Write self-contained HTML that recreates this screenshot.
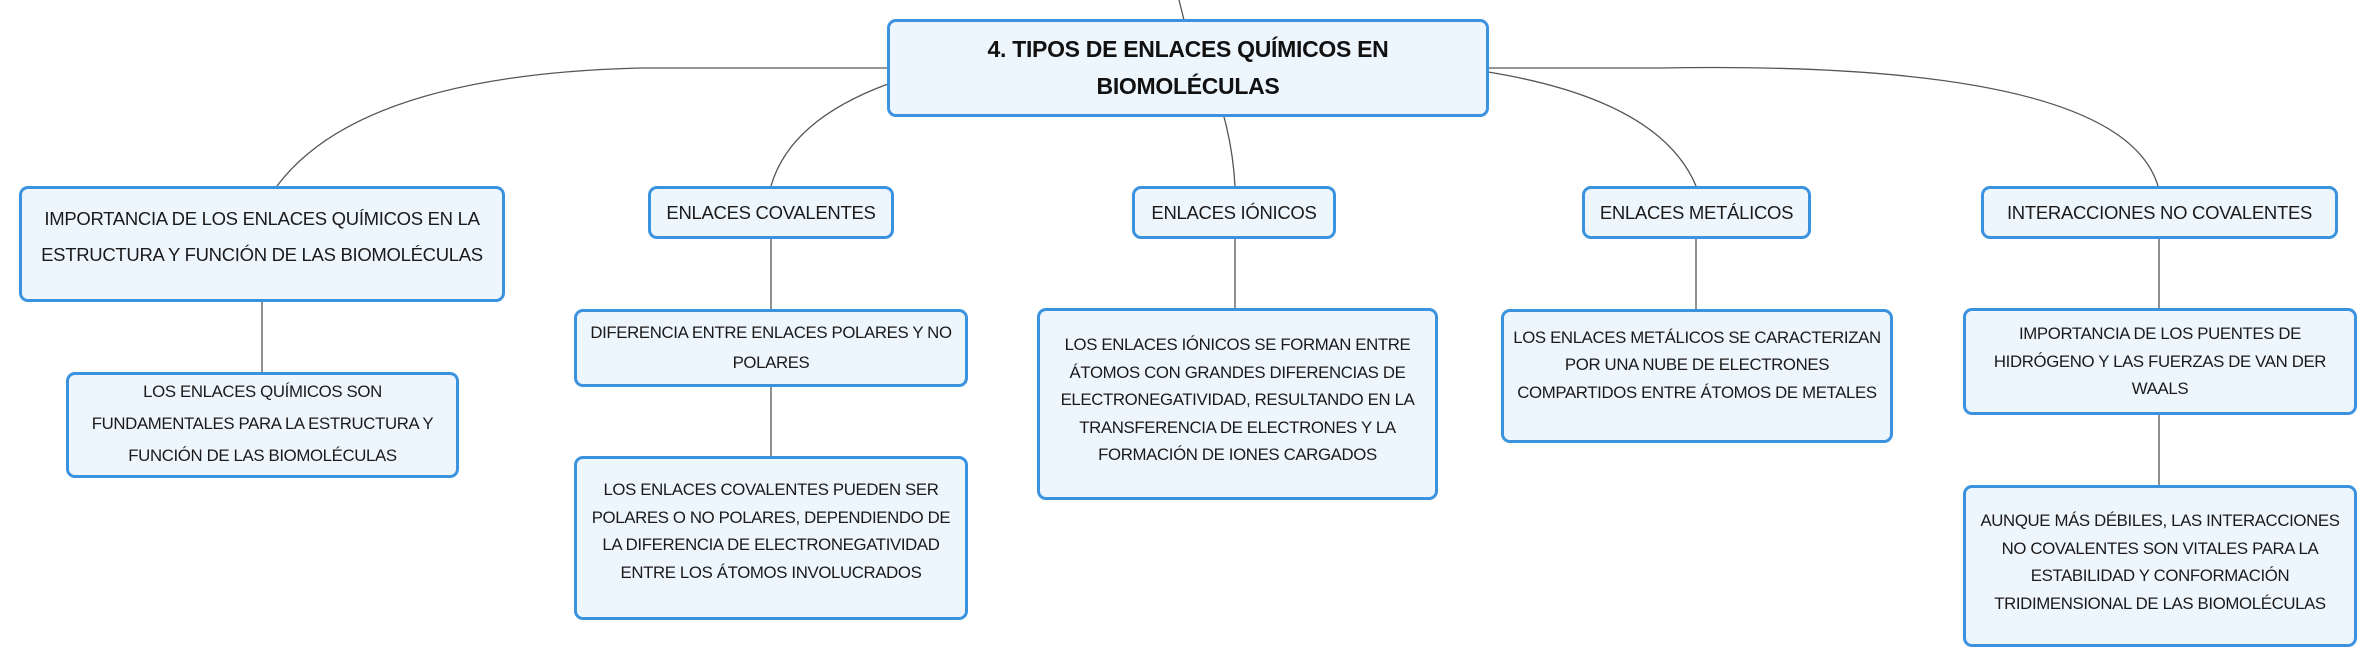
<!DOCTYPE html>
<html><head><meta charset="utf-8"><style>
html,body{margin:0;padding:0;background:#fff;}
body{width:2376px;height:668px;position:relative;overflow:hidden;font-family:"Liberation Sans",sans-serif;color:#1a1a1a;}
.n{position:absolute;box-sizing:border-box;border:3px solid #3b92de;border-radius:9px;background:#eef6fd;display:flex;align-items:center;justify-content:center;text-align:center;white-space:nowrap;}
.t{font-size:18.5px;line-height:36px;letter-spacing:-0.3px;}
.c{font-size:16.8px;line-height:27.5px;letter-spacing:-0.35px;}
.root{font-size:23px;font-weight:bold;line-height:37px;letter-spacing:-0.3px;color:#111;}
svg{position:absolute;left:0;top:0;}
</style></head><body>
<svg width="2376" height="668" fill="none" stroke="#555" stroke-width="1.3">
<path d="M1179 0 L1184 20"/>
<path d="M888 68 L640 68 Q360 75 277 186"/>
<path d="M888 84 Q790 120 771 186"/>
<path d="M1224 117 Q1233 150 1235 186"/>
<path d="M1488 72 Q1660 100 1696 186"/>
<path d="M1488 68 L1660 68 Q2120 60 2158 186"/>
<path d="M262 302 V372"/>
<path d="M771 238 V309"/>
<path d="M771 386 V456"/>
<path d="M1235 238 V309"/>
<path d="M1696 238 V309"/>
<path d="M2159 239 V309"/>
<path d="M2159 415 V485"/>
</svg>
<div class="n root" style="left:887px;top:19px;width:602px;height:98px;">4. TIPOS DE ENLACES QUÍMICOS EN<br>BIOMOLÉCULAS</div>

<div class="n t" style="left:19px;top:186px;width:486px;height:116px;padding-bottom:14px;">IMPORTANCIA DE LOS ENLACES QUÍMICOS EN LA<br>ESTRUCTURA Y FUNCIÓN DE LAS BIOMOLÉCULAS</div>
<div class="n c" style="left:66px;top:372px;width:393px;height:106px;padding-bottom:2px;line-height:32px;">LOS ENLACES QUÍMICOS SON<br>FUNDAMENTALES PARA LA ESTRUCTURA Y<br>FUNCIÓN DE LAS BIOMOLÉCULAS</div>

<div class="n t" style="left:648px;top:186px;width:246px;height:53px;">ENLACES COVALENTES</div>
<div class="n c" style="left:574px;top:309px;width:394px;height:78px;line-height:30px;">DIFERENCIA ENTRE ENLACES POLARES Y NO<br>POLARES</div>
<div class="n c" style="left:574px;top:456px;width:394px;height:164px;padding-bottom:14px;">LOS ENLACES COVALENTES PUEDEN SER<br>POLARES O NO POLARES, DEPENDIENDO DE<br>LA DIFERENCIA DE ELECTRONEGATIVIDAD<br>ENTRE LOS ÁTOMOS INVOLUCRADOS</div>

<div class="n t" style="left:1132px;top:186px;width:204px;height:53px;">ENLACES IÓNICOS</div>
<div class="n c" style="left:1037px;top:308px;width:401px;height:192px;padding-bottom:8px;">LOS ENLACES IÓNICOS SE FORMAN ENTRE<br>ÁTOMOS CON GRANDES DIFERENCIAS DE<br>ELECTRONEGATIVIDAD, RESULTANDO EN LA<br>TRANSFERENCIA DE ELECTRONES Y LA<br>FORMACIÓN DE IONES CARGADOS</div>

<div class="n t" style="left:1582px;top:186px;width:229px;height:53px;">ENLACES METÁLICOS</div>
<div class="n c" style="left:1501px;top:309px;width:392px;height:134px;padding-bottom:22px;">LOS ENLACES METÁLICOS SE CARACTERIZAN<br>POR UNA NUBE DE ELECTRONES<br>COMPARTIDOS ENTRE ÁTOMOS DE METALES</div>

<div class="n t" style="left:1981px;top:186px;width:357px;height:53px;">INTERACCIONES NO COVALENTES</div>
<div class="n c" style="left:1963px;top:308px;width:394px;height:107px;">IMPORTANCIA DE LOS PUENTES DE<br>HIDRÓGENO Y LAS FUERZAS DE VAN DER<br>WAALS</div>
<div class="n c" style="left:1963px;top:485px;width:394px;height:162px;padding-bottom:8px;">AUNQUE MÁS DÉBILES, LAS INTERACCIONES<br>NO COVALENTES SON VITALES PARA LA<br>ESTABILIDAD Y CONFORMACIÓN<br>TRIDIMENSIONAL DE LAS BIOMOLÉCULAS</div>
</body></html>
